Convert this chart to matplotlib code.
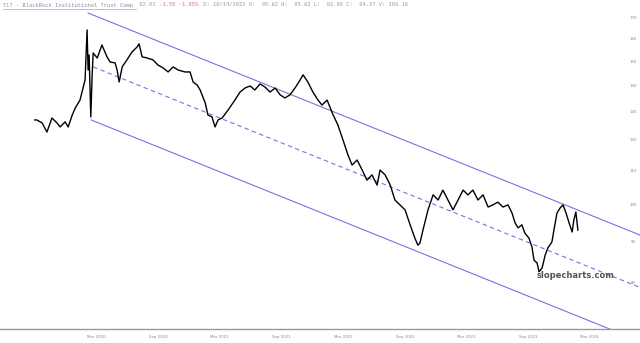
import matplotlib
matplotlib.use("Agg")
import matplotlib.pyplot as plt
import matplotlib.transforms as mtrans
import pandas as pd

# ---- data ----
dates = ["2019-09-28","2019-10-04","2019-10-20","2019-11-03","2019-11-18","2019-12-03","2019-12-12",
         "2019-12-27","2020-01-05","2020-01-17","2020-01-26","2020-02-04","2020-02-09","2020-02-15",
         "2020-02-24","2020-03-01","2020-03-04","2020-03-07","2020-03-12","2020-03-16","2020-03-19",
         "2020-03-31","2020-04-14","2020-04-29","2020-05-08","2020-05-23","2020-05-29","2020-06-04",
         "2020-06-13","2020-06-27","2020-07-12","2020-07-27","2020-08-02","2020-08-11","2020-08-26",
         "2020-09-12","2020-09-27","2020-10-12","2020-10-27","2020-11-11","2020-11-26","2020-12-16",
         "2020-12-31","2021-01-09","2021-01-21","2021-01-30","2021-02-14","2021-02-22","2021-03-06",
         "2021-03-15","2021-03-24","2021-04-05","2021-04-23","2021-05-13","2021-05-28","2021-06-12",
         "2021-06-27","2021-07-11","2021-07-26","2021-08-10","2021-08-25","2021-09-09","2021-09-24",
         "2021-10-08","2021-10-23","2021-11-07","2021-11-22","2021-12-01","2021-12-15","2021-12-30",
         "2022-01-14","2022-01-26","2022-02-10","2022-02-28","2022-03-14","2022-03-29","2022-04-13",
         "2022-04-25","2022-05-10","2022-05-25","2022-06-08","2022-06-23","2022-07-08","2022-07-17",
         "2022-08-01","2022-08-16","2022-08-30","2022-09-14","2022-09-29","2022-10-14","2022-10-28",
         "2022-11-06","2022-11-12","2022-11-21","2022-12-06","2022-12-21","2023-01-05","2023-01-19",
         "2023-02-03","2023-02-18","2023-03-05","2023-03-20","2023-04-03","2023-04-18","2023-05-03",
         "2023-05-18","2023-06-02","2023-06-16","2023-07-01","2023-07-16","2023-07-31","2023-08-12",
         "2023-08-21","2023-08-30","2023-09-10","2023-09-19","2023-10-01","2023-10-10","2023-10-16",
         "2023-10-25","2023-10-31","2023-11-09","2023-11-18","2023-11-26","2023-12-08","2023-12-14",
         "2023-12-23","2024-01-01","2024-01-10","2024-01-19","2024-01-28","2024-02-06","2024-02-11",
         "2024-02-17","2024-02-23"]
prices = [127.2,127.2,126.1,122.9,127.9,126.1,124.7,
          126.5,124.7,129.0,131.6,133.5,134.6,137.7,
          142.5,164.3,146.6,153.0,128.3,144.6,153.9,
          151.7,157.4,152.2,150.0,149.6,146.6,141.7,
          147.9,150.9,154.3,156.5,157.9,152.2,151.7,
          150.9,148.7,147.5,145.8,147.9,146.6,145.8,
          145.8,141.7,140.5,138.5,133.5,129.0,128.3,
          124.7,127.2,127.9,130.9,134.6,137.7,139.3,
          140.1,138.5,140.9,139.7,137.7,139.3,136.6,
          135.4,136.6,139.3,142.5,144.6,141.7,137.7,
          134.6,132.7,134.6,129.0,125.4,120.2,115.1,
          111.9,113.5,110.3,107.2,108.8,105.7,110.3,
          108.8,105.7,101.3,99.9,98.5,94.4,90.9,
          89.1,89.6,93.0,98.5,102.8,101.3,104.2,
          101.3,98.5,101.3,104.2,102.8,104.2,101.3,
          102.8,99.3,99.9,100.7,99.3,99.9,97.6,
          94.9,93.6,94.4,92.2,90.9,88.6,85.4,
          84.7,82.6,83.5,86.6,88.4,89.9,93.0,
          97.6,99.0,99.9,97.6,94.9,92.5,95.7,
          97.9,93.0]

upper_dates = ["2020-03-04", "2024-08-25"]
upper_prices = [172.4, 91.7]
mid_dates = ["2020-03-19", "2024-08-25"]
mid_prices = [147.9, 79.0]
lower_dates = ["2020-03-13", "2024-08-25"]
lower_prices = [127.2, 67.8]

y_ticks = [170, 160, 150, 140, 130, 120, 110, 100, 90, 80]
x_ticks = ["2020-03-01","2020-09-01","2021-03-01","2021-09-01","2022-03-01",
           "2022-09-01","2023-03-01","2023-09-01","2024-03-01"]
x_labels = ["Mar 2020","Sep 2020","Mar 2021","Sep 2021","Mar 2022",
            "Sep 2022","Mar 2023","Sep 2023","Mar 2024"]

header_parts = [
    ("TLT - BlackRock Institutional Trust Comp", "#8a8fb0"),
    (" 92.61", "#999999"),
    (" -1.55 -1.65%", "#e07070"),
    (" D: 10/14/2022 O:  95.82 H:  95.82 L:  93.96 C:  94.27 V: 160.16", "#999999"),
]

# ---- figure ----
W, H = 640, 343
fig = plt.figure(figsize=(W/100, H/100), dpi=100)
ax = fig.add_axes([0, 14/H, 1, 329/H])
ax.set_yscale("log")
ax.set_ylim(70.2, 178.9)
ax.set_xlim(pd.Timestamp("2019-06-17"), pd.Timestamp("2024-08-25"))

chan_col = "#7474e0"
ax.plot(pd.to_datetime(upper_dates), upper_prices, color=chan_col, lw=0.8)
ax.plot(pd.to_datetime(lower_dates), lower_prices, color=chan_col, lw=0.8)
ax.plot(pd.to_datetime(mid_dates), mid_prices, color=chan_col, lw=0.8, dashes=(4, 3))

ax.plot(pd.to_datetime(dates), prices, color="black", lw=1.0)

for s in ["top", "left", "right"]:
    ax.spines[s].set_visible(False)
ax.spines["bottom"].set_color("#999999")
ax.spines["bottom"].set_linewidth(1.0)

ax.yaxis.set_major_locator(matplotlib.ticker.NullLocator())
ax.yaxis.set_minor_locator(matplotlib.ticker.NullLocator())
ax.set_xticks(pd.to_datetime(x_ticks))
ax.set_xticklabels(x_labels, fontsize=2.8, color="#888888", ha="left")
ax.tick_params(axis="x", length=0, pad=4)

trans = mtrans.blended_transform_factory(ax.transAxes, ax.transData)
for v in y_ticks:
    ax.text(633/640, v, str(v), transform=trans, fontsize=2.8, color="#888888",
            ha="center", va="center")

ax.text(576/640, (68-14)/329, "slopecharts.com", transform=ax.transAxes,
        fontsize=6, fontweight="bold", color="#555555", ha="center", va="center")

# ---- header: one monospace line, coloured by segment ----
mono = "Liberation Mono"
fs = 4
char_w = 0.6 * fs * 100 / 72  # pixels per monospace character
ty = H - 5
pos = 0
for s, c in header_parts:
    fig.text((3 + pos * char_w) / W, ty / H, s, fontsize=fs, family=mono, color=c,
             ha="left", va="center")
    pos += len(s)
n0 = len(header_parts[0][0])
fig.add_artist(matplotlib.lines.Line2D([3/W, (3 + n0 * char_w)/W], [(H-8.5)/H, (H-8.5)/H],
                                       color="#8a8fb0", lw=0.4))

fig.savefig("out.png", dpi=100)
